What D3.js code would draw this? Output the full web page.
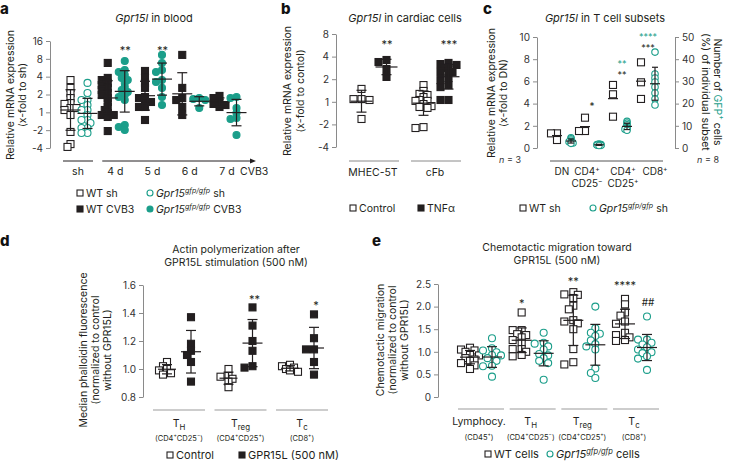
<!DOCTYPE html>
<html><head><meta charset="utf-8">
<script src="https://cdn.jsdelivr.net/npm/d3@7"></script>
<style>body{margin:0;background:#fff}</style>
</head><body>
<script>
// ---------------- DATA ----------------
// Panel a: Gpr15l in blood (log2-type axis, tick labels as printed)
const aGroups = ["sh","4 d","5 d","6 d","7 d"];
const aTicks = [-2,-1,0,1,2,3,4];
const aTickLabels = ["-4","-2","1","2","4","8","16"];
const aWT = [
  [1.81,1.37,1.08,0.80,0.52,0.47,0.24,0.13,0.24,-0.15,-1.10,-1.78,-1.94],
  [2.77,1.93,1.81,1.65,1.53,1.37,1.25,1.08,0.97,0.80,0.58,0.30,0.13,-0.04,-0.15,-0.26,-0.15,-1.05],
  [2.32,1.93,1.65,1.37,0.86,0.80,0.58,0.58,0.30,0.30,-0.43],
  [3.22,1.37,0.80,0.69,0.30,-0.15],
  [0.92,0.80,0.52,0.41,0.47,0.30]
];
const aKO = [
  [1.65,1.08,0.69,0.69,0.41,0.13,0.13,-0.15,-0.43,-0.43,-0.60,-0.88,-0.88,-1.16,-1.16],
  [2.88,2.37,2.26,2.09,1.93,1.81,1.65,1.42,1.25,1.14,0.97,0.86,0.69,-0.71,-0.82,-0.99],
  [3.22,2.77,2.37,2.26,1.81,1.70,1.37,0.86,0.41],
  [0.80,0.75,0.69,0.24],
  [0.86,0.80,0.24,-0.04,-0.32,-0.37,-1.27]
];
const aStars = [{g:"4 d", t:"**"},{g:"5 d", t:"**"}];

// Panel b: Gpr15l in cardiac cells
const bGroups = ["MHEC-5T","cFb"];
const bTicks = [-2,-1,0,1,2,3];
const bTickLabels = ["-4","-2","1","2","4","8"];
const bCtrl = [
  [0.57,0.12,0.12,0.08,-0.76],
  [0.74,0.48,0.35,0.30,0.21,0.08,0.04,0.04,-0.10,-0.19,-0.23,-0.27,-1.12,-1.16]
];
const bTNF = [
  [1.85,1.76,1.45,1.10],
  [1.72,1.67,1.63,1.50,1.50,1.32,1.32,1.32,1.05,0.96,0.74,0.65,0.08,0.08]
];
const bStars = ["**","***"];

// Panel c: Gpr15l in T cell subsets
const cGroups = ["DN","CD4+CD25−","CD4+CD25+","CD8+"];
const cTicksL = [0,2,4,6,8,10];
const cTicksR = [0,10,20,30,40,50];
const cWT = [[1.32,1.32,0.72],[2.73,1.53,1.53],[5.68,4.84,2.82],[7.72,5.92,4.42]];
const cKO = [
  [4.6,4.2,3.6,3.0,2.8,2.5,2.3,2.1],
  [1.8,1.6,1.5,1.5,1.4,1.3,1.2,1.1],
  [12.0,11.2,10.5,9.8,9.2,8.6,8.5,8.0],
  [43.2,33.3,31.5,29.7,27.5,24.8,22.1,19.4]
];

// Panel d: actin polymerization
const dGroups = ["TH","Treg","Tc"];
const dTicks = [0.8,1.0,1.2,1.4,1.6];
const dCtrl = [[1.05,1.02,1.00,0.99,0.97,0.96],[1.00,0.95,0.945,0.93,0.91,0.87],[1.03,1.02,1.01,1.00,0.99,0.98]];
const dGPR = [[1.37,1.18,1.13,1.10,1.05,0.91],[1.44,1.31,1.20,1.13,1.02,1.01],[1.39,1.22,1.14,1.14,1.05,0.96]];
const dStars = ["","**","*"];

// Panel e: chemotactic migration
const eGroups = ["Lymphocy.","TH","Treg","Tc"];
const eTicks = [0,0.5,1.0,1.5,2.0,2.5];
const eWT = [
  [1.09,1.05,1.03,1.00,0.93,0.92,0.86,0.83,0.80,0.75,0.70,0.62],
  [1.87,1.48,1.48,1.39,1.37,1.32,1.26,1.20,1.06,1.06,1.00,0.93,0.90],
  [2.32,2.27,2.26,2.19,2.02,1.94,1.70,1.67,1.63,1.50,1.06,0.77,0.72],
  [2.17,2.05,1.87,1.80,1.67,1.62,1.42,1.37,1.32,1.26,1.24]
];
const eKO = [
  [1.30,1.08,1.03,0.99,0.93,0.92,0.86,0.80,0.69,0.68,0.45],
  [1.42,1.20,1.18,1.12,1.05,0.95,0.92,0.86,0.80,0.75,0.38],
  [2.00,1.52,1.42,1.40,1.35,1.25,1.17,1.12,1.05,0.63,0.53,0.42],
  [1.78,1.27,1.27,1.20,1.16,1.10,1.05,0.99,0.97,0.90,0.85,0.60]
];
const eStarsWT = ["","*","**","****"];
const eStarsKO = ["","","","##"];

// ---------------- STYLE ----------------
const TEAL = "#1b9e8a", INK = "#231f20", AX = "#8a8a8a", GRID = "#bdbdbd";
const svg = d3.select("body").append("svg").attr("width",732).attr("height",462)
  .style("font-family","Inter, 'Noto Sans', sans-serif");

function rich(sel, parts){
  let shift = 0;
  parts.forEach(p=>{
    const txt = typeof p === "string" ? p : p[0];
    const o = typeof p === "string" ? {} : (p[1]||{});
    const t = sel.append("tspan").text(txt);
    const target = o.sup ? -4 : (o.sub ? 2.5 : 0);
    if (target !== shift){ t.attr("dy", target - shift); shift = target; }
    if (o.i) t.style("font-style","italic");
    if (o.sup || o.sub) t.attr("font-size", o.fs || "0.68em");
    if (o.fill) t.attr("fill", o.fill);
  });
  return sel;
}
function text(x,y,parts,opt={}){
  const t = svg.append("text").attr("x",x).attr("y",y)
    .attr("font-size",opt.fs||10.5).attr("fill",opt.fill||INK)
    .attr("text-anchor",opt.anchor||"middle");
  if (opt.weight) t.attr("font-weight",opt.weight);
  return rich(t, parts);
}
function vtitle(lines, xs, cy, rot){
  lines.forEach((l,i)=>{
    const t = svg.append("text").attr("transform",`translate(${xs[i]},${cy}) rotate(${rot||-90})`)
      .attr("text-anchor","middle").attr("dominant-baseline","central")
      .attr("font-size",10.5).attr("fill",INK);
    rich(t,l);
  });
}
function mark(g, shape, x, y, filled, color, s){
  if (shape === "sq"){
    g.append("rect").attr("x",x-s/2).attr("y",y-s/2).attr("width",s).attr("height",s)
      .attr("fill",filled?color:"#fff").attr("stroke",color).attr("stroke-width",1.1);
  } else {
    g.append("circle").attr("cx",x).attr("cy",y).attr("r",s/2)
      .attr("fill",filled?color:"#fff").attr("stroke",color).attr("stroke-width",1.1);
  }
}
function swarm(vals, yS, cx, step, minD){
  const order = vals.map((v,i)=>i).sort((a,b)=>vals[b]-vals[a]);
  const placed = [], xs = new Array(vals.length);
  const cands = [0,-1,1,-2,2];
  order.forEach(i=>{
    const py = yS(vals[i]); let best = cx, bc = Infinity;
    cands.forEach(k=>{
      const px = cx + k*step; let c = 0;
      placed.forEach(p=>{ const d = Math.hypot(px-p[0], py-p[1]); if (d < minD) c += minD - d; });
      c += Math.abs(k)*0.8;
      if (c < bc){ bc = c; best = px; }
    });
    xs[i] = best; placed.push([best,py]);
  });
  return xs;
}
function series(vals, cx, yS, o){
  const g = svg.append("g");
  const xs = swarm(vals, yS, cx, o.step||3, o.minD||4.5);
  vals.forEach((v,i)=>mark(g, o.shape, xs[i], yS(v), o.filled, o.color, o.size||7));
}
function errbar(vals, cx, yS, o={}){
  const g = svg.append("g").attr("stroke",o.color||INK).attr("stroke-width",1.2);
  const m = d3.mean(vals), s = d3.deviation(vals);
  const hw = o.hw||10, hc = o.hc||5;
  g.append("line").attr("x1",cx-hw).attr("x2",cx+hw).attr("y1",yS(m)).attr("y2",yS(m));
  if (o.sd !== false){
    g.append("line").attr("x1",cx).attr("x2",cx).attr("y1",yS(m-s)).attr("y2",yS(m+s));
    [m-s,m+s].forEach(v=>g.append("line").attr("x1",cx-hc).attr("x2",cx+hc).attr("y1",yS(v)).attr("y2",yS(v)));
  }
}
function yAxis(x, yS, ticks, fmt, right){
  const ax = (right ? d3.axisRight(yS) : d3.axisLeft(yS)).tickValues(ticks).tickFormat(fmt)
    .tickSize(4).tickSizeOuter(0).tickPadding(3);
  const g = svg.append("g").attr("transform",`translate(${x},0)`).call(ax);
  g.selectAll("path,line").attr("stroke",AX);
  g.selectAll("text").attr("font-size",10).attr("fill","#333").style("font-family","Inter, 'Noto Sans', sans-serif");
  return g;
}
function hline(x1,x2,y,color,w){
  svg.append("line").attr("x1",x1).attr("x2",x2).attr("y1",y).attr("y2",y).attr("stroke",color).attr("stroke-width",w||1);
}
function star(x,y,t,color,fs){ text(x,y,[t],{fs:fs||11,fill:color||INK}); }
function legendItem(x,y,shape,filled,color,parts,fs){
  mark(svg, shape, x, y, filled, color, 6);
  text(x+6, y+3.8, parts, {anchor:"start", fs:fs||10.5});
}
const GPR = [["Gpr15",{i:true}],["gfp/gfp",{i:true,sup:true}]];

// ---------------- PANEL a ----------------
text(0,14,["a"],{anchor:"start",fs:15,weight:800,fill:"#111"});
text(154,22,[["Gpr15l",{i:true}]," in blood"],{fs:11});
const yA = d3.scaleLinear().domain([-2,4]).range([148,41]);
const xA = d3.scalePoint().domain(aGroups).range([79,228]);
yAxis(50, yA, aTicks, d=>aTickLabels[aTicks.indexOf(d)]);
vtitle([["Relative mRNA expression"],["(x-fold to sh)"]],[10,22],95);
aGroups.forEach((g,i)=>{
  series(aWT[i], xA(g)-8.5, yA, {shape:"sq", filled:i>0, color:INK, size:7, step:3, minD:4.5});
  series(aKO[i], xA(g)+8.5, yA, {shape:"ci", filled:i>0, color:TEAL, size:7, step:3, minD:4.5});
});
aGroups.forEach((g,i)=>{
  errbar(aWT[i], xA(g)-8.5, yA, {hw:10,hc:5});
  errbar(aKO[i], xA(g)+8.5, yA, {hw:10,hc:5});
  text(xA(g)-1, 175, [g], {fs:10.5});
});
aStars.forEach(s=>star(xA(s.g)+9, yA(3.25)+0, s.t));
hline(xA("sh")-16, xA("sh")+14, 161, INK, 1);
hline(xA("4 d")-14, xA("7 d")+24, 161, INK, 1);
svg.append("path").attr("d",`M${xA("7 d")+28},161 l-6,-2.6 v5.2 z`).attr("fill",INK);
text(240,175,["CVB3"],{anchor:"start",fs:10.5});
legendItem(80,193,"sq",false,INK,["WT sh"]);
legendItem(150,193,"ci",false,TEAL,[...GPR," sh"]);
legendItem(80,209,"sq",true,INK,["WT CVB3"]);
legendItem(150,209,"ci",true,TEAL,[...GPR," CVB3"]);

// ---------------- PANEL b ----------------
text(281,14,["b"],{anchor:"start",fs:15,weight:800,fill:"#111"});
text(405,22,[["Gpr15l",{i:true}]," in cardiac cells"],{fs:11});
const yB = d3.scaleLinear().domain([-2,3]).range([147,34]);
const xB = d3.scalePoint().domain(bGroups).range([374,436]);
yAxis(336, yB, bTicks, d=>bTickLabels[bTicks.indexOf(d)]);
vtitle([["Relative mRNA expression"],["(x-fold to contol)"]],[287,300],91);
bGroups.forEach((g,i)=>{
  series(bCtrl[i], xB(g)-12.5, yB, {shape:"sq", filled:false, color:INK, size:7, step:4, minD:5.5});
  series(bTNF[i], xB(g)+12.5, yB, {shape:"sq", filled:true, color:INK, size:7, step:4, minD:5.5});
});
bGroups.forEach((g,i)=>{
  errbar(bCtrl[i], xB(g)-12.5, yB, {hw:11,hc:5});
  errbar(bTNF[i], xB(g)+12.5, yB, {hw:11,hc:5});
  hline(xB(g)-25, xB(g)+25, 161, AX, 1);
  text(xB(g)-1, 176, [g], {fs:10.5});
  star(xB(g)+13, yB(2.4), bStars[i]);
});
legendItem(353,208,"sq",false,INK,["Control"]);
legendItem(421,208,"sq",true,INK,["TNFα"]);

// ---------------- PANEL c ----------------
text(483,14,["c"],{anchor:"start",fs:15,weight:800,fill:"#111"});
text(605,22,[["Gpr15l",{i:true}]," in T cell subsets"],{fs:11});
const yC = d3.scaleLinear().domain([0,10]).range([148,37]);
const yC2 = d3.scaleLinear().domain([0,50]).range([148,37]);
const xC = d3.scalePoint().domain(cGroups).range([564,648]);
yAxis(537, yC, cTicksL, d3.format("d"));
yAxis(675, yC2, cTicksR, d3.format("d"), true);
vtitle([["Relative mRNA expression"],["(x-fold to DN)"]],[491,503],93);
vtitle([["Number of ",["GFP",{fill:TEAL}],["+",{sup:true,fill:TEAL}]," cells"],["(%) of individual subset"]],[718,706],92,90);
cGroups.forEach((g,i)=>{
  series(cWT[i], xC(g)-7, yC, {shape:"sq", filled:false, color:INK, size:7, step:3, minD:4});
  series(cKO[i], xC(g)+7, yC2, {shape:"ci", filled:false, color:TEAL, size:6.5, step:1, minD:2});
});
cGroups.forEach((g,i)=>{
  errbar(cWT[i], xC(g)-7, yC, {hw:5, sd:false});
  errbar(cKO[i], xC(g)+7, yC2, {hw:5,hc:3});
});
hline(550,663,161,"#555",1);
const cLab = [[["DN"]],[["CD4",["+",{sup:true}]],["CD25",["−",{sup:true}]]],[["CD4",["+",{sup:true}]],["CD25",["+",{sup:true}]]],[["CD8",["+",{sup:true}]]]];
const cLabShift = [-2,-5,3,7];
cGroups.forEach((g,i)=>{
  cLab[i].forEach((l,j)=>text(xC(g)+cLabShift[i], 175+j*12, l, {fs:10}));
});
text(510,163,[["n",{i:true}]," = 3"],{fs:9,fill:"#333"});
text(708,163,[["n",{i:true}]," = 8"],{fs:9,fill:"#333"});
star(xC(cGroups[1]), 110, "*", INK, 10);
star(xC(cGroups[2])+2, 67, "**", TEAL, 9);
star(xC(cGroups[2])+2, 78, "**", INK, 9);
star(xC(cGroups[3]), 40, "****", TEAL, 9);
star(xC(cGroups[3]), 51, "***", INK, 9);
legendItem(523,208,"sq",false,INK,["WT sh"]);
legendItem(593,208,"ci",false,TEAL,[...GPR," sh"]);

// ---------------- PANEL d ----------------
text(0,246,["d"],{anchor:"start",fs:15,weight:800,fill:"#111"});
text(236,253,["Actin polymerization after"],{fs:10.5});
text(236,266,["GPR15L stimulation (500 nM)"],{fs:10.5});
const yD = d3.scaleLinear().domain([0.8,1.6]).range([397,285]);
const xD = d3.scalePoint().domain(dGroups).range([179,302]);
yAxis(143, yD, dTicks, d3.format(".1f"));
vtitle([["Median phalloidin fluorescence"],["(normalized to control"],["without GPR15L)"]],[83,95,107],350);
const subLab = {
  "TH": [["T",["H",{sub:true,fs:"0.75em"}]],["(CD4",["+",{sup:true}],"CD25",["−",{sup:true}],")"]],
  "Treg": [["T",["reg",{sub:true,fs:"0.75em"}]],["(CD4",["+",{sup:true}],"CD25",["+",{sup:true}],")"]],
  "Tc": [["T",["c",{sub:true,fs:"0.75em"}]],["(CD8",["+",{sup:true}],")"]],
  "Lymphocy.": [["Lymphocy."],["(CD45",["+",{sup:true}],")"]]
};
dGroups.forEach((g,i)=>{
  series(dCtrl[i], xD(g)-12, yD, {shape:"sq", filled:false, color:INK, size:7, step:4, minD:5.5});
  series(dGPR[i], xD(g)+12, yD, {shape:"sq", filled:true, color:INK, size:7, step:4, minD:5.5});
});
dGroups.forEach((g,i)=>{
  errbar(dCtrl[i], xD(g)-12, yD, {hw:9,hc:5});
  errbar(dGPR[i], xD(g)+12, yD, {hw:10,hc:5});
  hline(xD(g)-26, xD(g)+26, 410, GRID, 1.5);
  text(xD(g), 427, subLab[g][0], {fs:10.5});
  text(xD(g), 441, subLab[g][1], {fs:7.5});
  if (dStars[i]) star(xD(g)+14, yD(1.47)+ (i===2?6:0), dStars[i]);
});
legendItem(170,455,"sq",false,INK,["Control"],11);
legendItem(242,455,"sq",true,INK,["GPR15L (500 nM)"],11);

// ---------------- PANEL e ----------------
text(372,246,["e"],{anchor:"start",fs:15,weight:800,fill:"#111"});
text(557,251,["Chemotactic migration toward"],{fs:10.5});
text(557,264,["GPR15L (500 nM)"],{fs:10.5});
const yE = d3.scaleLinear().domain([0,2.5]).range([397,284]);
const xE = d3.scalePoint().domain(eGroups).range([481,636]);
yAxis(438, yE, eTicks, d=>d===0?"0":d3.format(".1f")(d));
vtitle([["Chemotactic migration"],["(normalized to control"],["without GPR15L)"]],[380,392,404],340);
eGroups.forEach((g,i)=>{
  series(eWT[i], xE(g)-11, yE, {shape:"sq", filled:false, color:INK, size:7, step:4.5, minD:6});
  series(eKO[i], xE(g)+11, yE, {shape:"ci", filled:false, color:TEAL, size:7, step:4.5, minD:6});
});
eGroups.forEach((g,i)=>{
  errbar(eWT[i], xE(g)-11, yE, {hw:10,hc:5});
  errbar(eKO[i], xE(g)+11, yE, {hw:10,hc:5});
  hline(xE(g)-23, xE(g)+23, 409, GRID, 1.5);
  text(xE(g)-2, 425, subLab[g][0], {fs:10.5});
  text(xE(g)-2, 440, subLab[g][1], {fs:7.5});
  if (eStarsWT[i]) star(xE(g)-11, [0,307,285,289][i], eStarsWT[i]);
  if (eStarsKO[i]) star(xE(g)+12, 306, eStarsKO[i], INK, 10);
});
legendItem(488,454,"sq",false,INK,["WT cells"],11);
legendItem(550,454,"ci",false,TEAL,[...GPR," cells"],11);
</script>
</body></html>
